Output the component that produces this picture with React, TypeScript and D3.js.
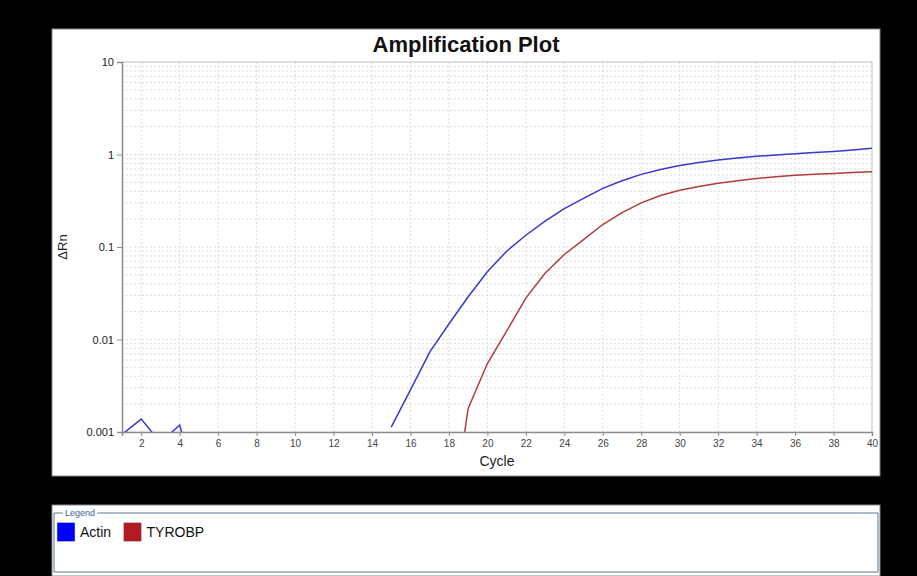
import React, { useEffect, useRef } from "react";
import * as d3 from "d3";

const W = 917;
const H = 576;
const margin = { top: 62, right: 45, bottom: 144, left: 122 };

// cycle numbers (x) and delta Rn per cycle, null = nothing plotted
const cycles = [
  1, 2, 3, 4, 5, 6, 7, 8, 9, 10, 11, 12, 13, 14, 15, 16, 17, 18, 19, 20,
  21, 22, 23, 24, 25, 26, 27, 28, 29, 30, 31, 32, 33, 34, 35, 36, 37, 38, 39, 40
];
const actin = [
  0.00094, 0.00138, 0.00077, 0.00119, 0.0002, null, null, null, null, null,
  null, null, null, null, 0.00113, 0.00285, 0.0073, 0.0147, 0.029, 0.054,
  0.09, 0.134, 0.19, 0.26, 0.335, 0.43, 0.52, 0.61, 0.69, 0.76,
  0.82, 0.87, 0.915, 0.955, 0.99, 1.02, 1.05, 1.08, 1.12, 1.17
];
const tyrobp = [
  null, null, null, null, null, null, null, null, null, null,
  null, null, null, null, null, null, null, 0.00007, 0.0018, 0.0055,
  0.0123, 0.028, 0.052, 0.083, 0.12, 0.175, 0.235, 0.3, 0.36, 0.41,
  0.45, 0.49, 0.52, 0.55, 0.575, 0.595, 0.61, 0.625, 0.64, 0.65
];
const xTicks = [2, 4, 6, 8, 10, 12, 14, 16, 18, 20, 22, 24, 26, 28, 30, 32, 34, 36, 38, 40];
const yTicks = [0.001, 0.01, 0.1, 1, 10];
const yTickLabels = ["0.001", "0.01", "0.1", "1", "10"];

const series = [
  { name: "Actin", values: actin, line: "#3838cc", swatch: "#0000ff" },
  { name: "TYROBP", values: tyrobp, line: "#b23c3c", swatch: "#b01c22" }
];

const font = "'Liberation Sans', Arial, sans-serif";

export default function App() {
  const xAxisRef = useRef<SVGGElement>(null);
  const yAxisRef = useRef<SVGGElement>(null);

  const x = d3.scaleLinear().domain([1, 40]).range([margin.left, W - margin.right]);
  const y = d3.scaleLog().domain([0.001, 10]).range([H - margin.bottom, margin.top]);

  // minor log grid 2..9 in every decade
  const minor: number[] = [];
  [0.001, 0.01, 0.1, 1].forEach((d) => {
    for (let k = 2; k <= 9; k++) minor.push(d * k);
  });

  const line = d3
    .line<[number, number | null]>()
    .defined((d) => d[1] != null && (d[1] as number) > 0)
    .x((d) => x(d[0]))
    .y((d) => y(d[1] as number));

  useEffect(() => {
    const xAxis = d3.axisBottom(x).tickValues(xTicks).tickSize(4).tickPadding(4).tickFormat(d3.format("d"));
    const gx = d3.select(xAxisRef.current!).call(xAxis as any);
    gx.select(".domain").attr("stroke", "#8c8c8c").attr("stroke-width", 1.5);
    gx.selectAll(".tick line").attr("stroke", "#8c8c8c");
    gx.selectAll(".tick text").attr("fill", "#444").attr("font-size", 10).attr("font-family", font);

    const yAxis = d3
      .axisLeft(y)
      .tickValues(yTicks)
      .tickSize(5)
      .tickPadding(3)
      .tickFormat((d, i) => yTickLabels[i]);
    const gy = d3.select(yAxisRef.current!).call(yAxis as any);
    gy.select(".domain").attr("stroke", "#8c8c8c").attr("stroke-width", 1.5);
    gy.selectAll(".tick line").attr("stroke", "#8c8c8c");
    gy.selectAll(".tick text").attr("fill", "#222").attr("font-size", 11).attr("font-family", font);
  }, []);

  const x0 = margin.left;
  const x1 = W - margin.right;
  const y0 = margin.top;
  const y1 = H - margin.bottom;

  return (
    <svg width={W} height={H} style={{ position: "absolute", left: 0, top: 0 }} fontFamily={font}>
      <rect width={W} height={H} fill="#000" />
      {/* chart panel */}
      <rect x={52} y={29} width={828} height={447} fill="#fff" stroke="#888" strokeWidth={1} />
      <text x={466} y={52} textAnchor="middle" fontSize={22} fontWeight="bold" fill="#111">
        Amplification Plot
      </text>

      <defs>
        <clipPath id="plotClip">
          <rect x={x0} y={y0} width={x1 - x0} height={y1 - y0} />
        </clipPath>
      </defs>

      {/* grid */}
      <g stroke="#dddddd" strokeWidth={1} strokeDasharray="2,2">
        {xTicks.map((t) => (
          <line key={"vx" + t} x1={x(t)} x2={x(t)} y1={y0} y2={y1} />
        ))}
        {minor.map((m, i) => (
          <line key={"hm" + i} x1={x0} x2={x1} y1={y(m)} y2={y(m)} />
        ))}
        {yTicks.map((t) => (
          <line key={"hy" + t} x1={x0} x2={x1} y1={y(t)} y2={y(t)} />
        ))}
      </g>
      <line x1={x0} x2={x1} y1={y0} y2={y0} stroke="#c8c8c8" />
      <line x1={x1} x2={x1} y1={y0} y2={y1} stroke="#c8c8c8" />

      <g clipPath="url(#plotClip)">
        {series.map((s) => (
          <path
            key={s.name}
            d={line(cycles.map((c, i) => [c, s.values[i]] as [number, number | null])) || ""}
            fill="none"
            stroke={s.line}
            strokeWidth={1.5}
          />
        ))}
      </g>

      <g ref={xAxisRef} transform={`translate(0, ${y1})`} />
      <g ref={yAxisRef} transform={`translate(${x0}, 0)`} />

      <text x={(x0 + x1) / 2} y={466} textAnchor="middle" fontSize={14} fill="#222">
        Cycle
      </text>
      <text
        transform={`translate(67, ${(y0 + y1) / 2}) rotate(-90)`}
        textAnchor="middle"
        fontSize={13}
        fill="#222"
      >
        ΔRn
      </text>

      {/* legend panel */}
      <rect x={52} y={505} width={828} height={71} fill="#fff" stroke="#888" />
      <path d="M 63 513 L 54 513 L 54 572 L 878 572 L 878 513 L 97 513" fill="none" stroke="#5b7897" strokeWidth={1} />
      <text x={65} y={516} fontSize={9} fill="#3f64a0">
        Legend
      </text>
      {series.map((s, i) => {
        const lx = 57 + i * 66.5;
        return (
          <g key={s.name}>
            <rect x={lx} y={522.5} width={18} height={19} fill={s.swatch} stroke="#ddd" strokeWidth={0.5} />
            <text x={lx + 23} y={537} fontSize={14} fill="#111">
              {s.name}
            </text>
          </g>
        );
      })}
    </svg>
  );
}
